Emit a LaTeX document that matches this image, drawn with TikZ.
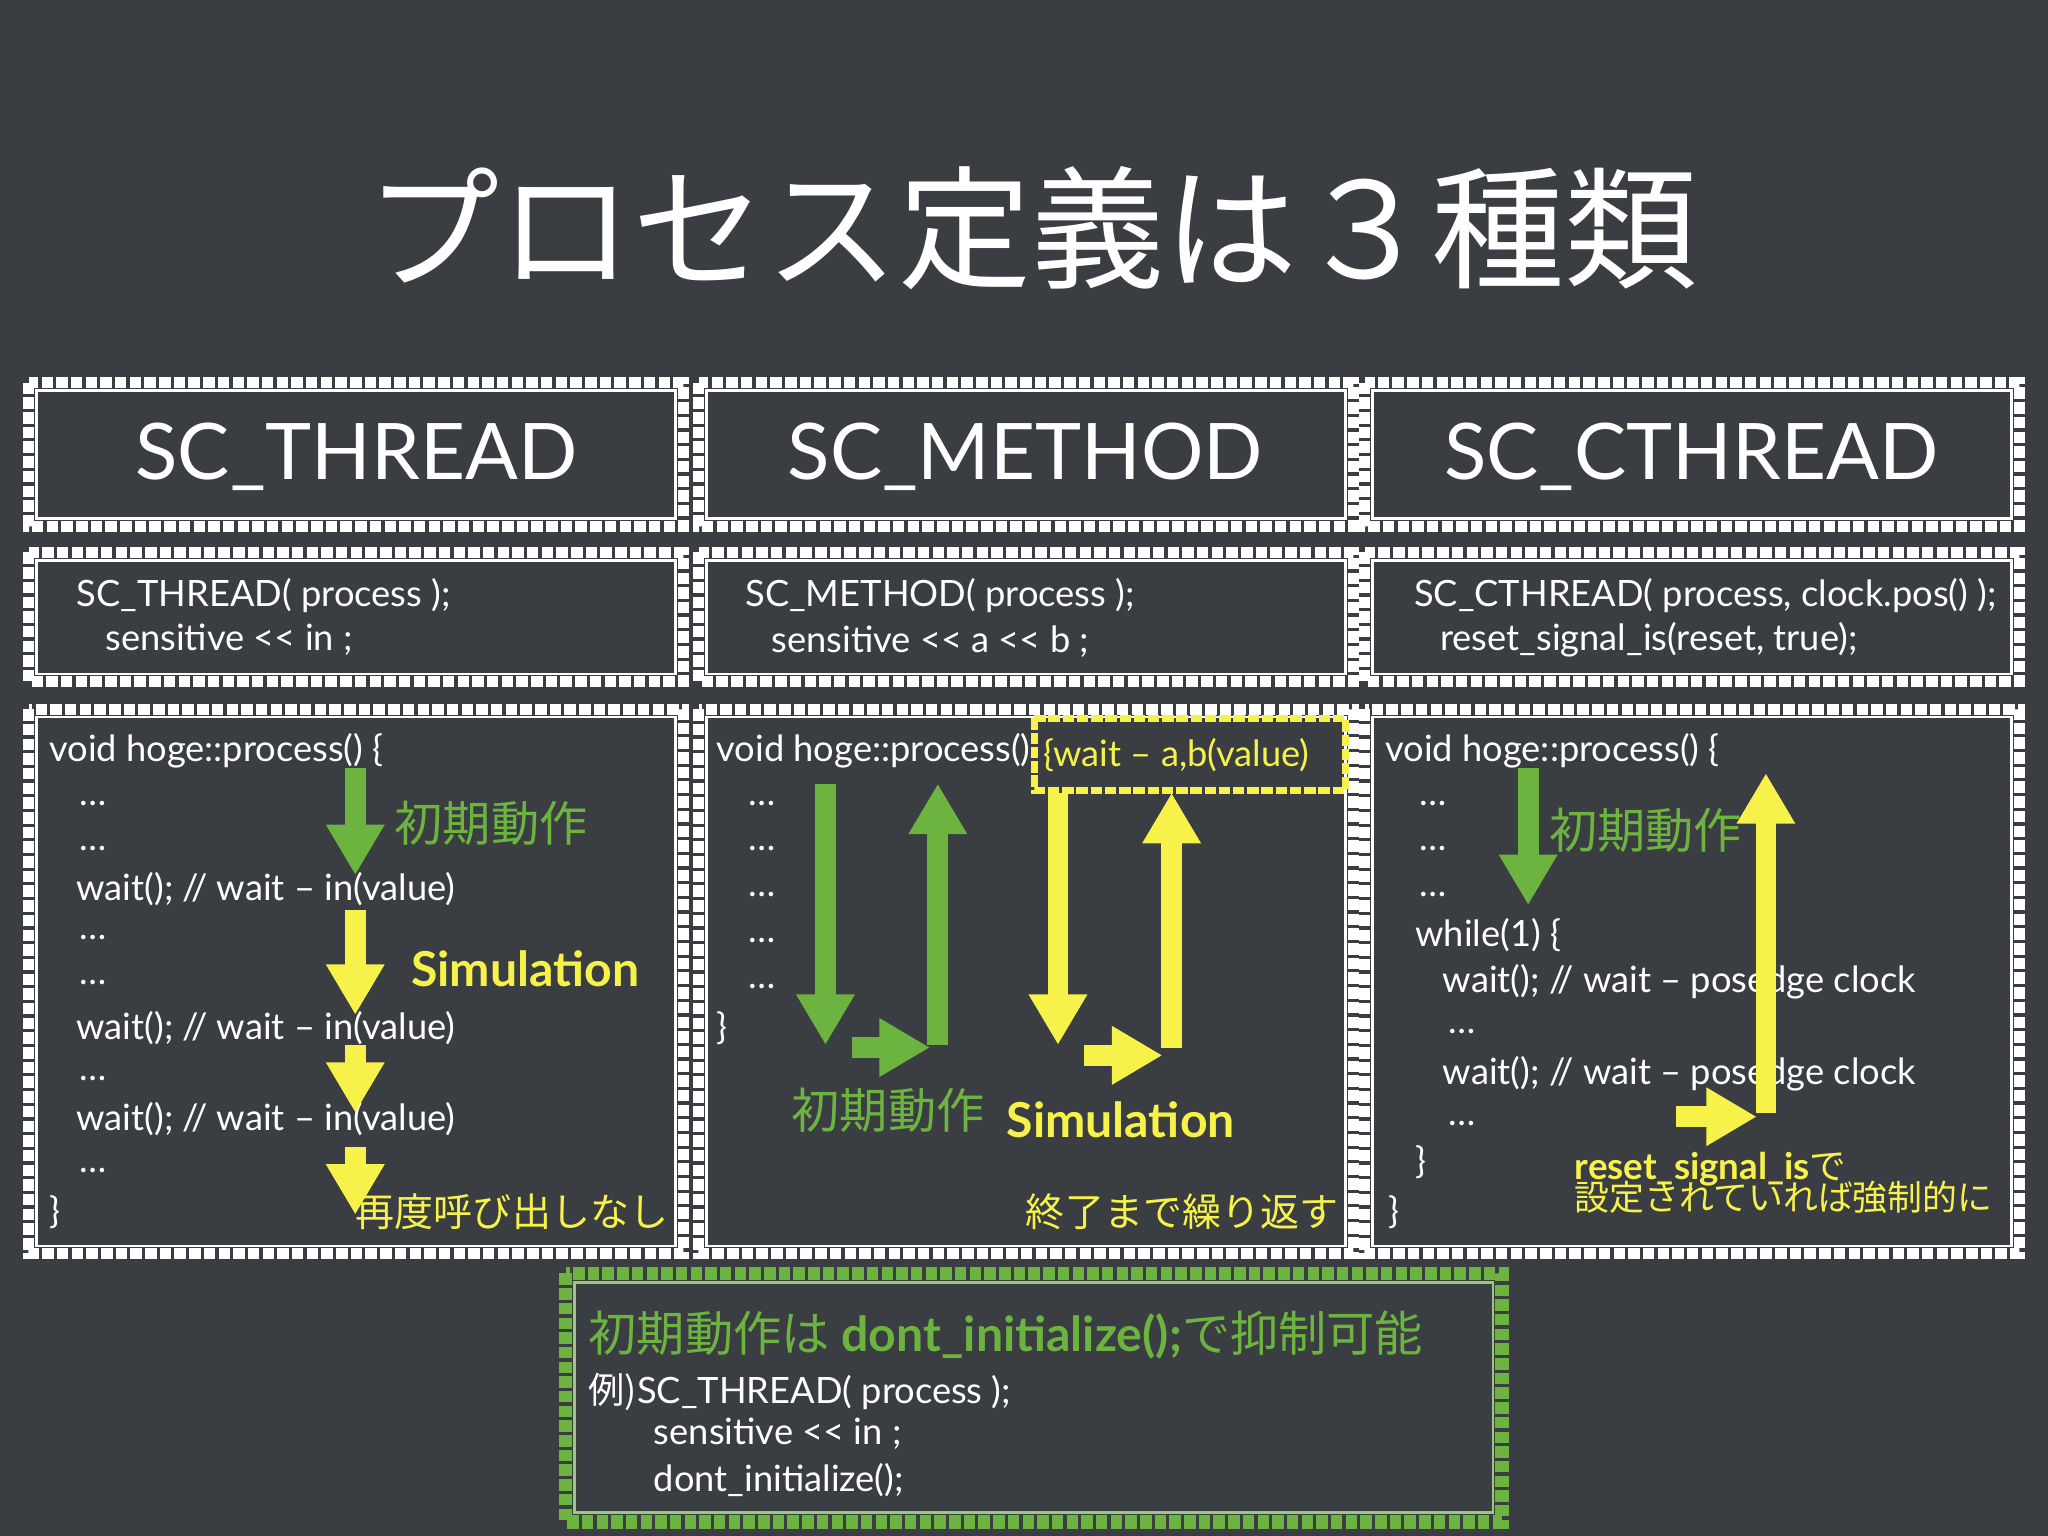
\documentclass[tikz,border=0pt]{standalone}
\usepackage{fontspec}
\setmainfont{Lato}
\newfontfamily\jp{Noto Sans CJK JP}
\usetikzlibrary{arrows.meta}
\definecolor{bg}{HTML}{3A3D41}
\definecolor{gr}{HTML}{6DB33F}
\definecolor{yl}{HTML}{F6F24A}
\newcommand{\shl}{{<}{<}}
\tikzset{
  chalk/.style={draw=white!92, line width=2.4pt, dash pattern=on 2.5pt off 0.7pt},
  chalkin/.style={draw=white!70, line width=0.6pt},
  code/.style={anchor=west, text=white, font=\fontsize{7.9}{10}\selectfont, inner sep=0pt},
  head/.style={text=white, font=\fontsize{17}{20}\selectfont},
  ga/.style={draw=gr, line width=4.5pt, -{Triangle[width=12pt,length=11pt]}},
  ya/.style={draw=yl, line width=4.5pt, -{Triangle[width=12pt,length=11pt]}},
  jl/.style={font=\jp\fontsize{10.5}{12}\selectfont, inner sep=0pt},
  jy/.style={text=yl, font=\jp\fontsize{8.5}{10}\selectfont, inner sep=0pt},
  sim/.style={text=yl, font=\fontsize{10.5}{12}\selectfont\bfseries, inner sep=0pt},
}
\begin{document}
\begin{tikzpicture}[x=1cm,y=-1cm]
\fill[bg] (0,0) rectangle (15.68,11.76);
\useasboundingbox (0,0) rectangle (15.68,11.76);
\node[text=white, font=\jp\fontsize{29}{34}\selectfont] (title) at (7.9,1.75) {プロセス定義は３種類};
% boxes
\foreach \x/\n in {0.22/a,5.35/b,10.45/c}{
  \draw[chalk] (\x,2.93) rectangle ++(5.01,1.1);
  \draw[chalkin] (\x+0.06,2.99) rectangle ++(4.89,0.98);
  \draw[chalk] (\x,4.23) rectangle ++(5.01,0.99);
  \draw[chalkin] (\x+0.06,4.29) rectangle ++(4.89,0.87);
  \draw[chalk] (\x,5.43) rectangle ++(5.01,4.17);
  \draw[chalkin] (\x+0.06,5.49) rectangle ++(4.89,4.05);
}
\node[head] (h1) at (2.73,3.5) {SC\_THREAD};
\node[head] (h2) at (7.85,3.5) {SC\_METHOD};
\node[head] (h3) at (12.95,3.5) {SC\_CTHREAD};
% row 2
\node[code] (r1a) at (0.58,4.56) {SC\_THREAD( process );};
\node[code] (r1b) at (0.80,4.90) {sensitive \shl{} in ;};
\node[code] (r2a) at (5.70,4.56) {SC\_METHOD( process );};
\node[code] (r2b) at (5.90,4.91) {sensitive \shl{} a \shl{} b ;};
\node[code] (r3a) at (10.82,4.56) {SC\_CTHREAD( process, clock.pos() );};
\node[code] (r3b) at (11.02,4.90) {reset\_signal\_is(reset, true);};
% col 1
\node[code] (c1) at (0.37,5.75) {void hoge::process() \{};
\foreach \y/\i in {6.15/1,6.50/2,7.18/3,7.52/4,8.26/5,8.96/6}{\node[code] (d1\i) at (0.60,\y) {…};}
\node[code] (w1) at (0.58,6.81) {wait(); // wait -- in(value)};
\node[code] (w2) at (0.58,7.87) {wait(); // wait -- in(value)};
\node[code] (w3) at (0.58,8.57) {wait(); // wait -- in(value)};
\node[code] (e1) at (0.37,9.28) {\}};
\coordinate (a1s) at (2.72,5.88); \coordinate (a1e) at (2.72,6.7);
\draw[ga] (a1s) -- (a1e);
\coordinate (a2s) at (2.72,6.97); \coordinate (a2e) at (2.72,7.77);
\draw[ya] (a2s) -- (a2e);
\coordinate (a3s) at (2.72,8.0); \coordinate (a3e) at (2.72,8.52);
\draw[ya] (a3s) -- (a3e);
\coordinate (a4s) at (2.72,8.78); \coordinate (a4e) at (2.72,9.3);
\draw[ya] (a4s) -- (a4e);
\node[jl, text=gr] (l1) at (3.76,6.30) {初期動作};
\node[sim] (s1) at (4.02,7.42) {Simulation};
\node[jy] (n1) at (3.92,9.28) {再度呼び出しなし};
% col 2
\node[code] (c2) at (5.48,5.75) {void hoge::process()};
\draw[draw=yl, line width=1.6pt, dash pattern=on 2.5pt off 0.6pt] (7.92,5.50) rectangle (10.30,6.05);
\node[code, text=yl] (wb) at (7.98,5.78) {\{wait -- a,b(value)};
\foreach \y/\i in {6.15/1,6.50/2,6.85/3,7.20/4,7.55/5}{\node[code] (d2\i) at (5.72,\y) {…};}
\node[code] (e2) at (5.48,7.87) {\}};
\coordinate (b1s) at (6.32,6.0); \coordinate (b1e) at (6.32,8.0);
\draw[ga] (b1s) -- (b1e);
\coordinate (b2s) at (6.52,8.02); \coordinate (b2e) at (7.12,8.02);
\draw[ga] (b2s) -- (b2e);
\coordinate (b3s) at (7.18,8.0); \coordinate (b3e) at (7.18,6.0);
\draw[ga] (b3s) -- (b3e);
\coordinate (b4s) at (8.10,6.07); \coordinate (b4e) at (8.10,8.0);
\draw[ya] (b4s) -- (b4e);
\coordinate (b5s) at (8.30,8.08); \coordinate (b5e) at (8.90,8.08);
\draw[ya] (b5s) -- (b5e);
\coordinate (b6s) at (8.97,8.02); \coordinate (b6e) at (8.97,6.07);
\draw[ya] (b6s) -- (b6e);
\node[jl, text=gr] (l2) at (6.80,8.50) {初期動作};
\node[sim] (s2) at (8.58,8.57) {Simulation};
\node[jy] (n2) at (9.05,9.28) {終了まで繰り返す};
% col 3
\node[code] (c3) at (10.60,5.75) {void hoge::process() \{};
\foreach \y/\i in {6.15/1,6.50/2,6.85/3}{\node[code] (d3\i) at (10.86,\y) {…};}
\node[code] (wh) at (10.83,7.16) {while(1) \{};
\node[code] (w4) at (11.04,7.52) {wait(); // wait -- posedge clock};
\node[code] (d34) at (11.08,7.90) {…};
\node[code] (w5) at (11.04,8.22) {wait(); // wait -- posedge clock};
\node[code] (d35) at (11.08,8.60) {…};
\node[code] (e3a) at (10.83,8.90) {\}};
\node[code] (e3b) at (10.62,9.28) {\}};
\coordinate (c1s) at (11.70,5.88); \coordinate (c1e) at (11.70,6.93);
\draw[ga] (c1s) -- (c1e);
\node[jl, text=gr] (l3) at (12.60,6.36) {初期動作};
\coordinate (c2s) at (13.52,8.52); \coordinate (c2e) at (13.52,5.92);
\draw[ya] (c2s) -- (c2e);
\coordinate (c3s) at (12.83,8.55); \coordinate (c3e) at (13.45,8.55);
\draw[ya] (c3s) -- (c3e);
\node[anchor=west, inner sep=0pt, text=yl, font=\fontsize{8}{10}\selectfont\bfseries] (rs) at (12.05,8.95) {reset\_signal\_is{\jp\mdseries で}};
\node[anchor=west, inner sep=0pt, text=yl, font=\jp\fontsize{7.6}{10}\selectfont] (rs2) at (12.05,9.17) {設定されていれば強制的に};
% bottom
\draw[draw=gr, line width=3pt, dash pattern=on 2.5pt off 0.7pt] (4.33,9.75) rectangle (11.5,11.65);
\draw[draw=gr!70, line width=0.6pt] (4.40,9.82) rectangle (11.43,11.58);
\node[anchor=west, inner sep=0pt, text=gr, font=\fontsize{10.5}{14}\selectfont\bfseries] (bt) at (4.50,10.22) {{\jp\mdseries 初期動作は} dont\_initialize();{\jp\mdseries で抑制可能}};
\node[code] (ex1) at (4.50,10.66) {{\jp 例)}SC\_THREAD( process );};
\node[code] (ex2) at (5.00,10.98) {sensitive \shl{} in ;};
\node[code] (ex3) at (5.00,11.33) {dont\_initialize();};
\end{tikzpicture}
\end{document}
